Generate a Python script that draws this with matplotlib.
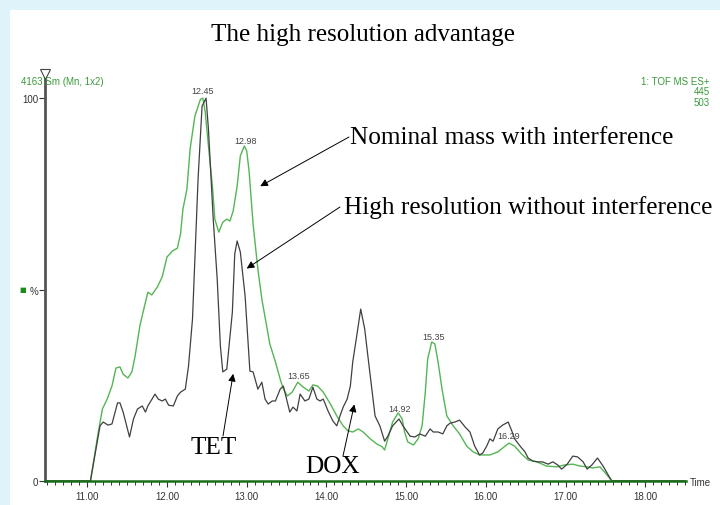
import numpy as np
import matplotlib
matplotlib.use("Agg")
import matplotlib.pyplot as plt
from matplotlib.patches import Rectangle
from matplotlib.ticker import MultipleLocator, FuncFormatter

# ---- data ----
black_t = [10.47, 11.04, 11.16, 11.20, 11.26, 11.31, 11.38, 11.41, 11.45, 11.53, 11.58, 11.63, 11.69, 11.73, 11.76,
           11.85, 11.89, 11.94, 11.98, 12.02, 12.08, 12.13, 12.17, 12.23, 12.27, 12.32, 12.35, 12.39, 12.44,
           12.49, 12.52, 12.58, 12.63, 12.67, 12.70, 12.75, 12.82, 12.85, 12.88, 12.92, 12.98, 13.02, 13.04,
           13.08, 13.14, 13.19, 13.23, 13.27, 13.32, 13.36, 13.42, 13.46, 13.51, 13.54, 13.58, 13.63, 13.67,
           13.73, 13.78, 13.83, 13.88, 13.92, 13.96, 14.02, 14.08, 14.13, 14.17, 14.21, 14.26, 14.30, 14.33,
           14.38, 14.43, 14.48, 14.52, 14.57, 14.61, 14.67, 14.73, 14.77, 14.83, 14.91, 14.96, 15.05, 15.11,
           15.17, 15.24, 15.30, 15.34, 15.40, 15.46, 15.51, 15.55, 15.61, 15.67, 15.74, 15.80, 15.86, 15.92,
           15.96, 16.01, 16.05, 16.09, 16.15, 16.21, 16.28, 16.33, 16.36, 16.43, 16.49, 16.53, 16.59, 16.65,
           16.71, 16.78, 16.84, 16.90, 16.95, 17.02, 17.09, 17.15, 17.22, 17.27, 17.33, 17.40, 17.47, 17.55,
           17.58, 18.51]
black_y = [0, 0, 14.4, 15.4, 14.6, 14.9, 20.4, 20.4, 18.0, 11.5, 16.2, 18.8, 19.6, 18.0, 19.6,
           22.7, 21.4, 20.9, 21.4, 19.8, 19.6, 22.2, 23.2, 24.0, 30.0, 42.3, 58.0, 78.9, 97.9,
           100.0, 91.9, 68.4, 52.7, 35.2, 28.5, 29.2, 44.1, 59.3, 62.7, 59.8, 48.3, 35.2, 28.7,
           28.5, 24.0, 25.8, 21.4, 20.1, 20.9, 20.9, 24.0, 24.8, 20.6, 18.0, 19.3, 18.3, 22.7,
           20.9, 21.4, 24.5, 21.4, 20.9, 21.4, 18.3, 15.7, 14.4, 17.0, 19.3, 21.4, 24.8, 31.1,
           37.9, 44.9, 39.7, 32.6, 24.0, 17.0, 14.4, 10.4, 11.7, 14.4, 16.2, 14.4, 11.7, 11.5,
           12.3, 11.7, 13.6, 12.8, 12.8, 12.3, 14.4, 15.1, 15.4, 15.9, 14.1, 12.8, 9.1, 6.8,
           7.3, 9.1, 11.0, 10.4, 13.6, 14.6, 15.4, 12.8, 11.0, 9.1, 7.6, 6.0, 5.2, 5.0,
           5.0, 4.4, 5.0, 4.2, 3.1, 4.4, 6.5, 6.3, 5.0, 3.1, 4.2, 6.0, 3.9, 1.0,
           0, 0]

green_t = [10.47, 11.04, 11.13, 11.19, 11.25, 11.31, 11.36, 11.41, 11.45, 11.51, 11.56, 11.60, 11.66, 11.70, 11.76,
           11.81, 11.88, 11.94, 12.00, 12.07, 12.13, 12.17, 12.20, 12.25, 12.29, 12.35, 12.42, 12.45,
           12.48, 12.52, 12.57, 12.60, 12.65, 12.70, 12.75, 12.79, 12.83, 12.88, 12.92, 12.97, 13.00,
           13.03, 13.08, 13.14, 13.19, 13.23, 13.29, 13.36, 13.42, 13.46, 13.51, 13.57, 13.64, 13.71,
           13.78, 13.83, 13.89, 13.96, 14.05, 14.13, 14.21, 14.27, 14.33, 14.40, 14.46, 14.55, 14.63,
           14.70, 14.73, 14.77, 14.83, 14.90, 14.95, 14.98, 15.02, 15.09, 15.15, 15.20, 15.24, 15.27,
           15.32, 15.36, 15.40, 15.45, 15.51, 15.59, 15.67, 15.76, 15.84, 15.92, 16.05, 16.15, 16.24,
           16.29, 16.36, 16.45, 16.53, 16.64, 16.76, 16.89, 16.99, 17.09, 17.18, 17.27, 17.34, 17.43,
           17.49, 17.55, 17.58, 18.51]
green_y = [0, 0, 11.7, 18.8, 21.4, 24.8, 29.5, 29.8, 27.9, 26.9, 28.5, 32.6, 40.5, 44.1, 49.3,
           48.6, 50.7, 53.3, 58.5, 60.1, 60.8, 64.5, 71.0, 76.2, 86.7, 95.3, 99.7, 100.0,
           96.3, 87.5, 77.0, 68.4, 65.0, 67.6, 68.4, 67.9, 70.5, 77.0, 84.9, 87.5, 86.2,
           80.9, 67.1, 55.4, 47.5, 42.8, 35.8, 31.1, 26.6, 24.0, 22.2, 23.2, 25.8, 24.5,
           23.5, 25.1, 24.8, 23.2, 20.1, 17.0, 14.4, 13.1, 12.8, 13.6, 12.8, 11.0, 9.7,
           8.9, 8.1, 11.0, 15.4, 17.8, 16.2, 12.8, 10.2, 9.4, 11.0, 14.4, 23.2, 31.9,
           36.3, 35.8, 31.1, 24.0, 17.0, 14.4, 12.3, 9.1, 7.6, 6.8, 6.8, 7.6, 9.1,
           9.9, 9.1, 7.0, 5.5, 5.0, 3.9, 3.7, 4.2, 4.4, 3.9, 3.7, 3.4, 3.7,
           2.3, 0.8, 0, 0]

peak_labels = ["12.45", "12.98", "13.65", "14.92", "15.35", "16.29"]
x_ticks = [11, 12, 13, 14, 15, 16, 17, 18]

# ---- figure ----
W, H = 720, 506
fig = plt.figure(figsize=(W / 100, H / 100), dpi=100)
fig.patch.set_facecolor("#dff3fa")
fig.patches.append(Rectangle((10 / W, 0), 1 - 10 / W, (H - 11) / H, transform=fig.transFigure,
                             facecolor="white", edgecolor="none", zorder=-10))

ax = fig.add_axes([45 / W, 24 / H, 641 / W, 407 / H])
ax.set_zorder(2)
ax.set_facecolor("none")
ax.set_xlim(10.47, 18.51)
ax.set_ylim(0, 106.3)

green_c = "#55b555"
ax.plot(green_t, green_y, color=green_c, lw=1.0, zorder=2)
ax.plot(black_t, black_y, color="#404040", lw=0.9, zorder=3)

for sp in ["top", "right"]:
    ax.spines[sp].set_visible(False)
ax.spines["left"].set_color("#555555")
ax.spines["left"].set_linewidth(2.0)
ax.spines["bottom"].set_color("#1a6e1a")
ax.spines["bottom"].set_linewidth(1.8)
ax.spines["bottom"].set_zorder(4)

ax.set_xticks(x_ticks)
ax.xaxis.set_major_formatter(FuncFormatter(lambda v, p: f"{v:.2f}"))
ax.xaxis.set_minor_locator(MultipleLocator(0.1))
ax.tick_params(axis="x", which="major", length=4, width=0.8, color="#333333",
               labelsize=7, labelcolor="#333333", pad=3)
ax.tick_params(axis="x", which="minor", length=3, width=0.7, color="#333333")
for lbl in ax.get_xticklabels():
    lbl.set_fontfamily("Liberation Sans")

ax.set_yticks([0, 50, 100])
ax.set_yticklabels(["0", "%", "100"], fontfamily="Liberation Sans")
ax.tick_params(axis="y", length=4, width=0.8, color="#333333", labelsize=7,
               labelcolor="#333333", pad=1)

# top marker of y axis
ax.plot([10.47], [106.3], marker="v", markersize=7, markerfacecolor="white",
        markeredgecolor="#444444", clip_on=False, zorder=5, markeredgewidth=0.8)

# green square near %
fig.text(23 / W, (H - 290) / H, "\u25A0", color="#1a8a1a", fontsize=5, ha="center", va="center",
         family="DejaVu Sans")

# peak labels (on green trace)
for lab in peak_labels:
    t = float(lab)
    yv = np.interp(t, green_t, green_y)
    ax.annotate(lab, (t, yv), xytext=(0, 2), textcoords="offset points", ha="center", va="bottom",
                fontsize=6.5, color="#444444", family="Liberation Sans", zorder=6)

# header texts
hdr = dict(color="#3a9a3a", fontsize=7, family="Liberation Sans", va="center")
fig.text(21 / W, (H - 82) / H, "4163 Sm (Mn, 1x2)", ha="left", **hdr)
fig.text(710 / W, (H - 82) / H, "1: TOF MS ES+", ha="right", **hdr)
fig.text(710 / W, (H - 92) / H, "445", ha="right", **hdr)
fig.text(710 / W, (H - 103) / H, "503", ha="right", **hdr)
fig.text(690 / W, (H - 483) / H, "Time", color="#333333", fontsize=7,
         family="Liberation Sans", ha="left", va="center")

# title
fig.text(363 / W, (H - 35) / H, "The high resolution advantage", fontsize=18,
         family="Liberation Serif", ha="center", va="center")

# annotation texts
serif = dict(family="Liberation Serif", fontsize=18.2, va="center")
fig.text(350 / W, (H - 138) / H, "Nominal mass with interference", ha="left", **serif)
fig.text(344 / W, (H - 208) / H, "High resolution without interference", ha="left", **serif)
fig.text(214 / W, (H - 448) / H, "TET", ha="center", **serif)
fig.text(333 / W, (H - 467) / H, "DOX", ha="center", **serif)

arrow = dict(arrowstyle="-|>", lw=0.7, color="black", mutation_scale=11, shrinkA=0, shrinkB=0)
arrows = [((13.17, 77.0), (349, H - 138)),
          ((13.00, 55.5), (340, H - 208)),
          ((12.83, 28.0), (223, H - 437)),
          ((14.35, 20.0), (343, H - 457))]
for tip, tail in arrows:
    ax.annotate("", xy=tip, xycoords="data", xytext=tail, textcoords="figure pixels",
                arrowprops=arrow, zorder=7)

fig.savefig("out.png", dpi=100, facecolor=fig.get_facecolor())
